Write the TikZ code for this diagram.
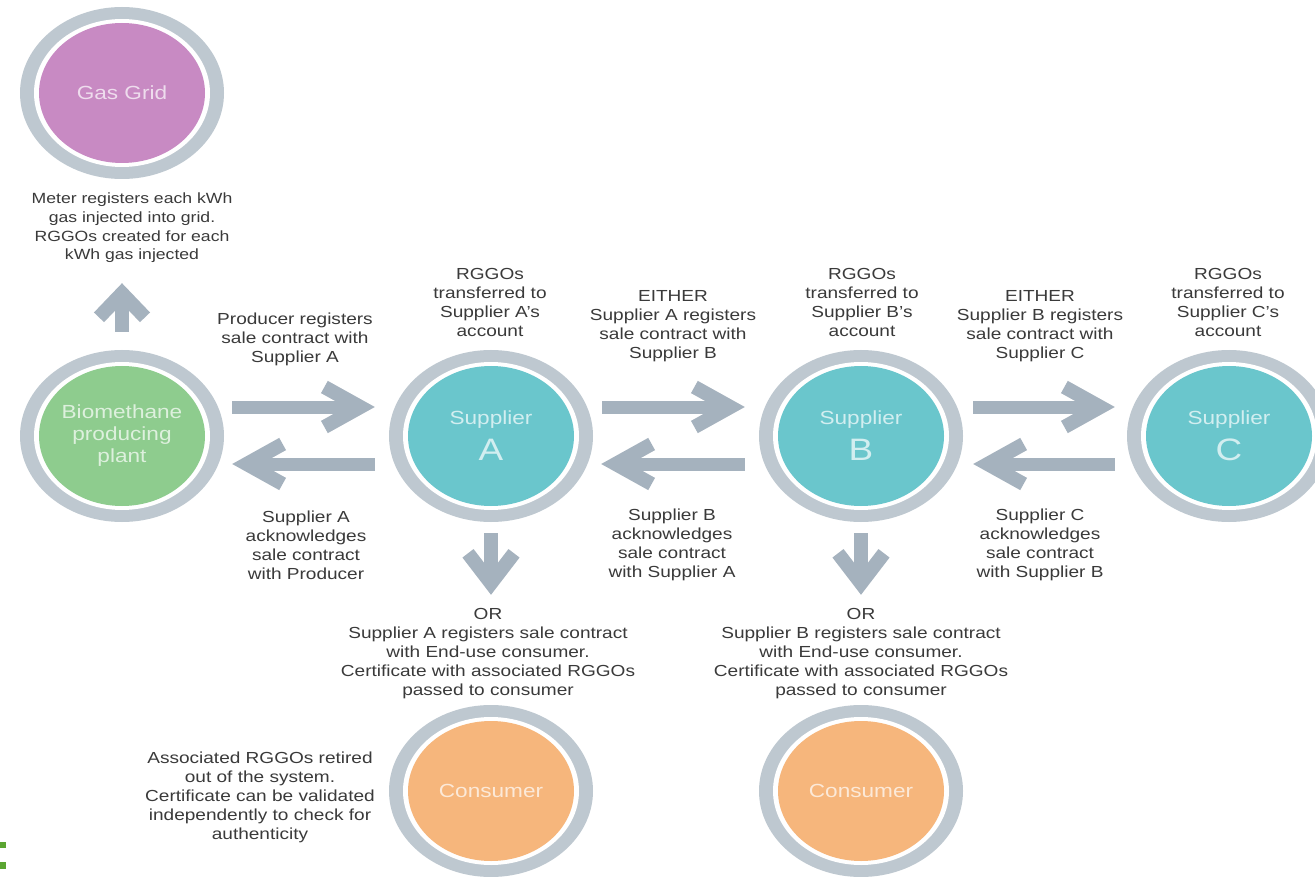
\documentclass[tikz,border=0pt]{standalone}
\usepackage{fontspec}
\setmainfont{Liberation Sans}[FakeStretch=1.19]
\usetikzlibrary{shapes.geometric,arrows.meta}
\definecolor{pinkfill}{HTML}{C88AC3}
\definecolor{greenfill}{HTML}{8ECC8E}
\definecolor{tealfill}{HTML}{6AC6CC}
\definecolor{orangefill}{HTML}{F6B67C}
\definecolor{ringgray}{HTML}{BEC8D0}
\definecolor{arrowgray}{HTML}{A5B2BE}
\definecolor{txtgray}{HTML}{3A3A3A}
\definecolor{markgreen}{HTML}{5BA532}
\begin{document}
\begin{tikzpicture}[x=1pt,y=-1pt,
  circ/.style={ellipse, inner sep=0pt, minimum width=204pt, minimum height=172pt,
    fill=ringgray, align=center, text=white!70!#1, font=\fontsize{19}{22}\selectfont,
    path picture={\fill[white] (path picture bounding box.center) ellipse [x radius=88pt, y radius=74pt];
      \fill[#1] (path picture bounding box.center) ellipse [x radius=83pt, y radius=70pt];}},
  supp/.style={circ=tealfill, font=\fontsize{19}{36}\selectfont},
  lbl/.style={align=center, text=txtgray, font=\fontsize{16}{19}\selectfont, inner sep=0pt},
  fat/.style={draw=arrowgray, line width=13pt, -{Straight Barb[length=36pt, width=40pt, line width=14pt]}},
  vfat/.style={draw=arrowgray, line width=14pt, -{Straight Barb[length=#1, width=46pt, line width=14pt]}}
]
\clip (0,0) rectangle (1315,877);
\fill[white] (0,0) rectangle (1315,877);

% circles
\node[circ=pinkfill] (gas) at (122,93) {Gas Grid};
\node[circ=greenfill] (bio) at (122,436) {Biomethane\\producing\\plant};
\node[supp] (A) at (491,436) {Supplier\\{\fontsize{31}{36}\selectfont A}};
\node[supp] (B) at (861,436) {Supplier\\{\fontsize{31}{36}\selectfont B}};
\node[supp] (C) at (1229,436) {Supplier\\{\fontsize{31}{36}\selectfont C}};
\node[circ=orangefill] (consA) at (491,791) {Consumer};
\node[circ=orangefill] (consB) at (861,791) {Consumer};

% labels
\node[lbl, font=\fontsize{14.8}{18.7}\selectfont] (gaslbl) at (132,228) {Meter registers each kWh\\gas injected into grid.\\RGGOs created for each\\kWh gas injected};
\node[lbl] (prodlbl) at (295,339) {Producer registers\\sale contract with\\Supplier A};
\node[lbl] (ackA) at (306,545) {Supplier A\\acknowledges\\sale contract\\with Producer};
\node[lbl] (rgA) at (490,302) {RGGOs\\transferred to\\Supplier A's\\account};
\node[lbl] (eitherAB) at (673,326) {EITHER\\Supplier A registers\\sale contract with\\Supplier B};
\node[lbl] (ackB) at (672,545) {Supplier B\\acknowledges\\sale contract\\with Supplier A};
\node[lbl] (rgB) at (862,302) {RGGOs\\transferred to\\Supplier B's\\account};
\node[lbl] (eitherBC) at (1040,326) {EITHER\\Supplier B registers\\sale contract with\\Supplier C};
\node[lbl] (rgC) at (1228,302) {RGGOs\\transferred to\\Supplier C's\\account};
\node[lbl] (ackC) at (1040,545) {Supplier C\\acknowledges\\sale contract\\with Supplier B};
\node[lbl] (orA) at (488,654) {OR\\Supplier A registers sale contract\\with End-use consumer.\\Certificate with associated RGGOs\\passed to consumer};
\node[lbl] (orB) at (861,654) {OR\\Supplier B registers sale contract\\with End-use consumer.\\Certificate with associated RGGOs\\passed to consumer};
\node[lbl] (retired) at (260,797) {Associated RGGOs retired\\out of the system.\\Certificate can be validated\\independently to check for\\authenticity};

% arrows
\draw[vfat=24pt, shorten <=18pt, shorten >=104pt] (bio.north) -- (gas.south);
\draw[fat, shorten <=8pt, shorten >=14pt] ([yshift=29pt]bio.east) -- ([yshift=29pt]A.west);
\draw[fat, shorten <=14pt, shorten >=8pt] ([yshift=-28pt]A.west) -- ([yshift=-28pt]bio.east);
\draw[fat, shorten <=9pt, shorten >=14pt] ([yshift=29pt]A.east) -- ([yshift=29pt]B.west);
\draw[fat, shorten <=14pt, shorten >=8pt] ([yshift=-28pt]B.west) -- ([yshift=-28pt]A.east);
\draw[fat, shorten <=10pt, shorten >=12pt] ([yshift=29pt]B.east) -- ([yshift=29pt]C.west);
\draw[fat, shorten <=12pt, shorten >=10pt] ([yshift=-28pt]C.west) -- ([yshift=-28pt]B.east);
\draw[vfat=30pt, shorten <=11pt, shorten >=110pt] (A.south) -- (consA.north);
\draw[vfat=30pt, shorten <=11pt, shorten >=110pt] (B.south) -- (consB.north);

% edge marks
\fill[markgreen] (0,842) rectangle (6,848);
\fill[markgreen] (0,862) rectangle (6,869);
\end{tikzpicture}
\end{document}
